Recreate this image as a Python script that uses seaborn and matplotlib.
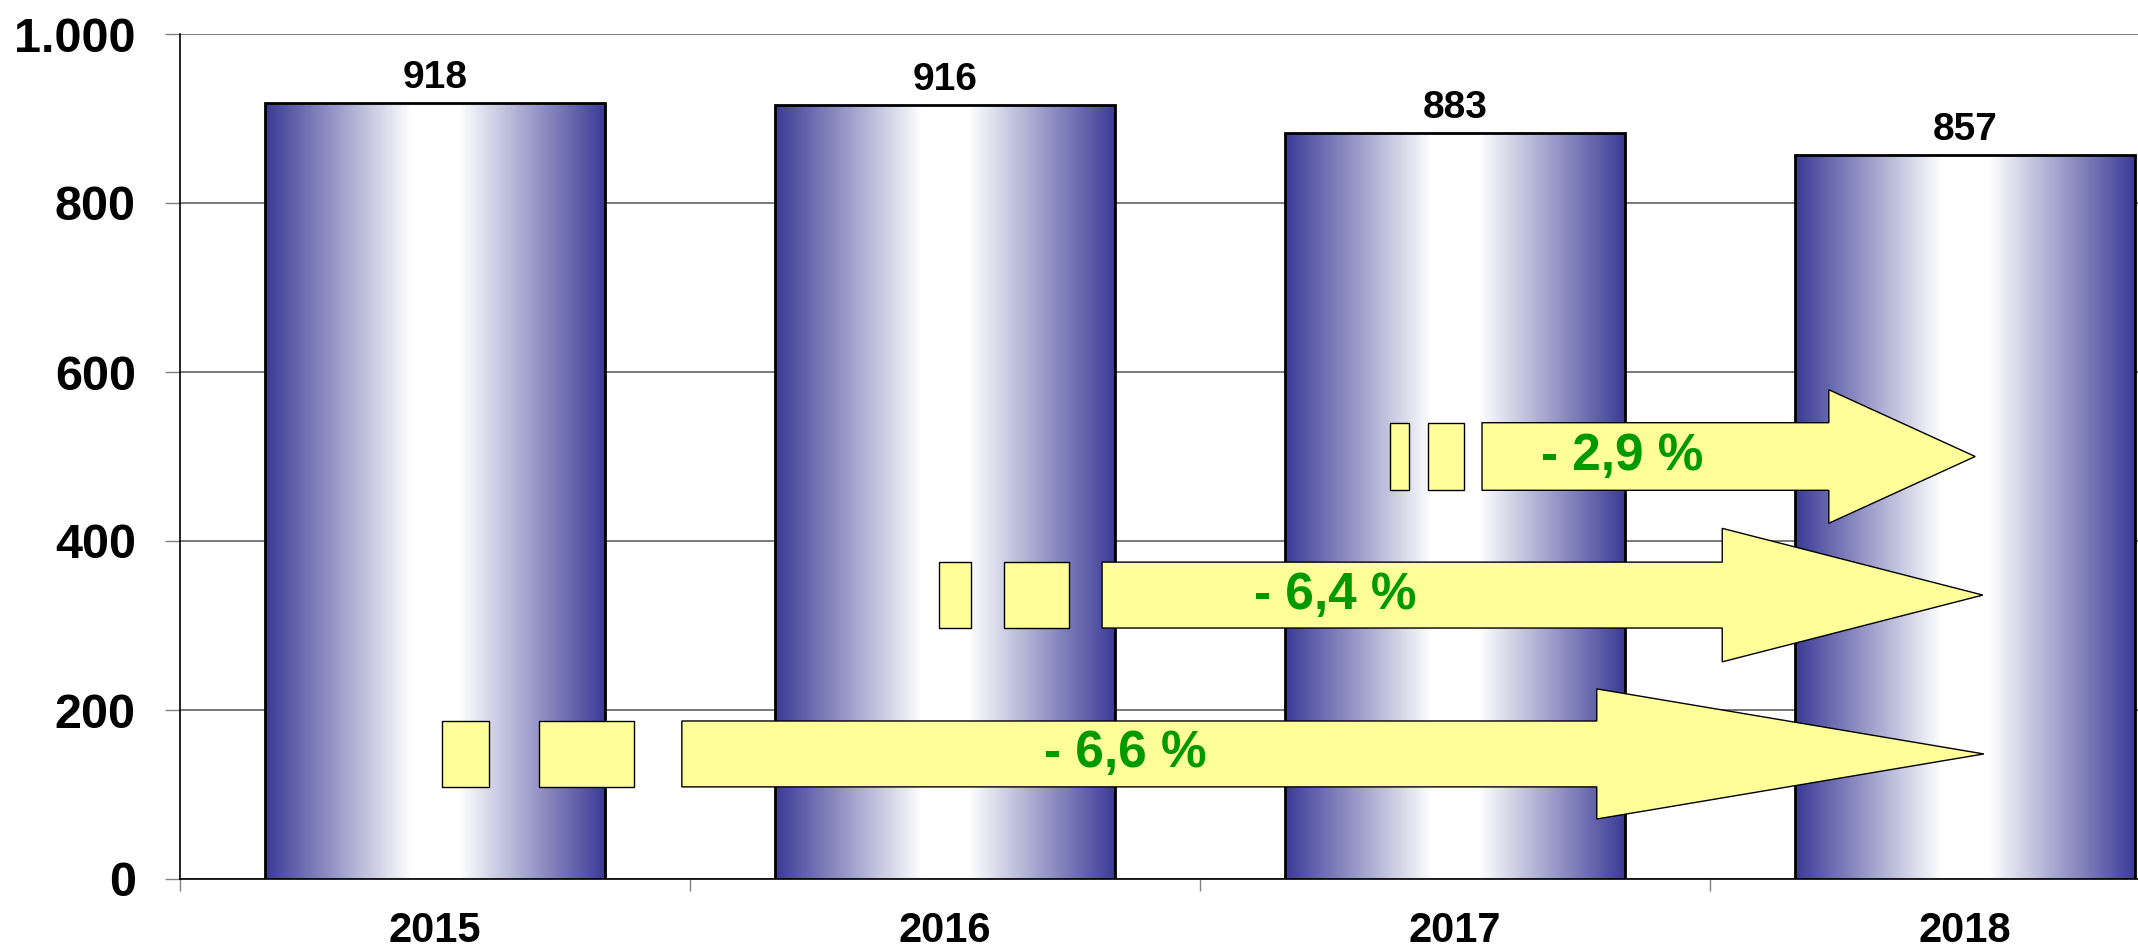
import numpy as np
import pandas as pd
import matplotlib
matplotlib.use("Agg")
import matplotlib.pyplot as plt
from matplotlib.patches import Polygon, Rectangle
from matplotlib.colors import to_rgb
import seaborn as sns

# ---- data ----
years = ["2015", "2016", "2017", "2018"]
values = [918, 916, 883, 857]
y_ticks = [0, 200, 400, 600, 800, 1000]
y_tick_labels = ["0", "200", "400", "600", "800", "1.000"]

sns.set_theme(style="white")
plt.rcParams["font.family"] = ["Liberation Sans", "DejaVu Sans"]
plt.rcParams["font.weight"] = "bold"
plt.rcParams["text.color"] = "black"

W, H = 2138, 949
fig = plt.figure(figsize=(W / 100, H / 100), dpi=100)
ax = fig.add_axes([180 / W, 70 / H, 2040 / W, 845 / H])

df = pd.DataFrame({"year": years, "value": values})
sns.barplot(data=df, x="year", y="value", ax=ax, width=0.668,
            color="#3a3a96", edgecolor="black", linewidth=2.0,
            saturation=1, zorder=3)

ax.set_xlim(-0.5, 3.5)
ax.set_ylim(0, 1000)

# gradient fill for each bar
dark = np.array(to_rgb("#3a3a96"))
white = np.array([1.0, 1.0, 1.0])
t = np.linspace(0, 1, 400)
f = np.clip((1 - np.abs(2 * t - 1)) / 0.86, 0, 1)
grad = dark[None, :] + (white - dark)[None, :] * f[:, None]
grad_img = grad[None, :, :]
for p in ax.patches:
    x0, y0 = p.get_x(), p.get_y()
    w, h = p.get_width(), p.get_height()
    im = ax.imshow(grad_img, extent=[x0, x0 + w, y0, y0 + h], aspect="auto",
                   zorder=2.9, interpolation="bilinear")
    im.set_clip_path(p)
    p.set_facecolor("none")
ax.set_xlim(-0.5, 3.5)
ax.set_ylim(0, 1000)

# value labels
for c in ax.containers:
    ax.bar_label(c, labels=[str(v) for v in values], padding=5,
                 fontsize=28, fontweight="bold", color="black")

# grid & spines
ax.set_axisbelow(True)
ax.yaxis.grid(True, color="#555555", linewidth=1.1)
ax.xaxis.grid(False)
for s in ["top", "right"]:
    ax.spines[s].set_visible(False)
for s in ["left", "bottom"]:
    ax.spines[s].set_color("black")
    ax.spines[s].set_linewidth(1.2)

ax.set_yticks(y_ticks)
ax.set_yticklabels(y_tick_labels, fontsize=35, fontweight="bold", color="black")
ax.tick_params(axis="y", which="major", left=True, length=10.8, width=1,
               color="#808080", pad=21, labelcolor="black")
ax.set_xticks(range(len(years)))
ax.set_xticklabels(years, fontsize=30, fontweight="bold", color="black")
ax.set_xticks([-0.5, 0.5, 1.5, 2.5, 3.5], minor=True)
ax.tick_params(axis="x", which="major", bottom=False, length=0, pad=23,
               labelcolor="black")
ax.tick_params(axis="x", which="minor", bottom=True, length=8.6, width=1,
               color="#808080")
ax.set_xlabel("")
ax.set_ylabel("")

# ---- striped change arrows ----
# (start bar index, y centre, body half, head half, rect1, rect2, body start, head base, tip, text x)
arrows = [
    (0, 148, 39, 77, (0.014, 0.106), (0.204, 0.390), 0.484, 2.278, 3.037, 1.353),
    (1, 336, 39, 79, (0.988, 1.051), (1.116, 1.243), 1.308, 2.524, 3.035, 1.765),
    (2, 500, 40, 79, (1.873, 1.910), (1.947, 2.018), 2.053, 2.733, 3.020, 2.327),
]
yellow = "#ffff99"
for (i, yc, bh, hh, r1, r2, xb, xh, xt, tx) in arrows:
    for (a, b) in (r1, r2):
        ax.add_patch(Rectangle((a, yc - bh), b - a, 2 * bh, facecolor=yellow,
                               edgecolor="black", linewidth=1.0, zorder=5))
    poly = [(xb, yc - bh), (xh, yc - bh), (xh, yc - hh), (xt, yc),
            (xh, yc + hh), (xh, yc + bh), (xb, yc + bh)]
    ax.add_patch(Polygon(poly, closed=True, facecolor=yellow,
                         edgecolor="black", linewidth=1.0, zorder=5))
    pct = (values[-1] - values[i]) / values[i] * 100
    label = "- " + f"{abs(pct):.1f}".replace(".", ",") + " %"
    ax.text(tx, yc, label, ha="center", va="center", fontsize=37,
            fontweight="bold", color="#009900", zorder=6)

fig.savefig("out.png", dpi=100)
